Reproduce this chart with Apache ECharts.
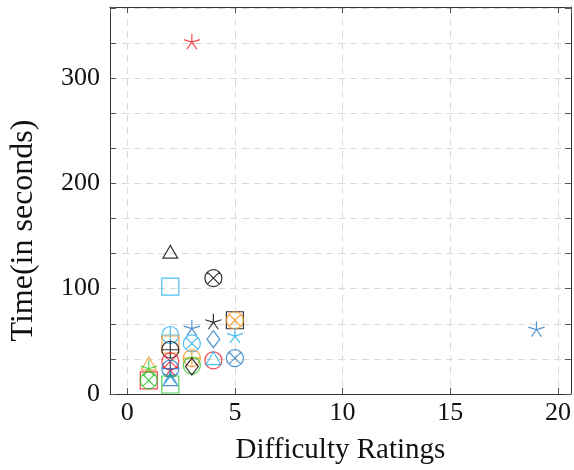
<!DOCTYPE html>
<html>
<head>
<meta charset="utf-8">
<script src="https://cdn.jsdelivr.net/npm/echarts@6/dist/echarts.min.js"></script>
<style>
  html, body { margin: 0; padding: 0; background: #fff; }
  #chart { width: 574px; height: 470px; }
</style>
</head>
<body>
<div id="chart"></div>
<script>
// Difficulty rating vs. solving time, one marker style per puzzle
const blackTriangle  = [[2, 133]];
const cyanSquare     = [[2, 102]];
const blackOtimes    = [[4, 110]];
const blackStar      = [[4, 68]];
const blackSquare    = [[5, 70]];
const orangeOtimes   = [[5, 70]];
const blueStar       = [[3, 62], [19, 61]];
const cyanStar       = [[5, 55], [2, 17]];
const redStar        = [[3, 334], [2, 23]];
const greenStar      = [[1, 24]];
const cyanOplus      = [[2, 56]];
const cyanOtimes     = [[3, 48]];
const blueDiamond    = [[4, 52]];
const orangeSquare   = [[2, 47]];
const blackOplus     = [[2, 42]];
const redOtimes      = [[2, 31]];
const orangeOplus    = [[3, 34]];
const redCircle      = [[4, 32]];
const cyanTriangle   = [[4, 32]];
const blueOtimes     = [[5, 34]];
const greenCircle    = [[3, 27]];
const blackDiamond   = [[3, 26]];
const orangeTriangle = [[1, 27]];
const redSquare      = [[1, 13]];
const greenOtimes    = [[1, 13]];
const blueOplus      = [[2, 24]];
const blueTriangle   = [[2, 12]];
const greenSquare    = [[2, 9]];

const yTickLabels = [0, 100, 200, 300];

// colours
const C = {
  black: '#000000',
  red: '#ef1c24',
  cyan: '#22aef0',
  blue: '#1f78c4',
  orange: '#f7941d',
  green: '#22c822'
};

// marker outlines, all drawn in a [-1,1] box so every mark stays centred
const BOX = 'M-1,-1L-1,-1M1,1L1,1';
const S = {
  circle:   'path://' + BOX + 'M1,0A1,1 0 1,1 -1,0A1,1 0 1,1 1,0Z',
  otimes:   'path://' + BOX + 'M1,0A1,1 0 1,1 -1,0A1,1 0 1,1 1,0ZM-0.707,-0.707L0.707,0.707M0.707,-0.707L-0.707,0.707',
  oplus:    'path://' + BOX + 'M1,0A1,1 0 1,1 -1,0A1,1 0 1,1 1,0ZM-1,0L1,0M0,-1L0,1',
  square:   'path://' + BOX + 'M-1,-1L1,-1L1,1L-1,1Z',
  triangle: 'path://' + BOX + 'M0,-1L0.866,0.5L-0.866,0.5Z',
  diamond:  'path://' + BOX + 'M0,-1L0.75,0L0,1L-0.75,0Z',
  star:     'path://' + BOX + 'M0,0L0,-1M0,0L0.951,-0.309M0,0L0.588,0.809M0,0L-0.588,0.809M0,0L-0.951,-0.309'
};

function marks(data, shape, color) {
  return {
    type: 'scatter',
    data: data,
    symbol: S[shape],
    symbolSize: 17,
    symbolKeepAspect: true,
    itemStyle: { color: 'none', borderColor: color, borderWidth: 1.2 },
    emphasis: { disabled: true },
    silent: true,
    z: 3
  };
}

const series = [
  marks(blackTriangle, 'triangle', C.black),
  marks(cyanSquare, 'square', C.cyan),
  marks(blackOtimes, 'otimes', C.black),
  marks(blackStar, 'star', C.black),
  marks(blackSquare, 'square', C.black),
  marks(orangeOtimes, 'otimes', C.orange),
  marks(blueStar, 'star', C.blue),
  marks(cyanStar, 'star', C.cyan),
  marks(redStar, 'star', C.red),
  marks(cyanOplus, 'oplus', C.cyan),
  marks(orangeSquare, 'square', C.orange),
  marks(cyanOtimes, 'otimes', C.cyan),
  marks(blueDiamond, 'diamond', C.blue),
  marks(blackOplus, 'oplus', C.black),
  marks(redOtimes, 'otimes', C.red),
  marks(orangeOplus, 'oplus', C.orange),
  marks(redCircle, 'circle', C.red),
  marks(cyanTriangle, 'triangle', C.cyan),
  marks(blueOtimes, 'otimes', C.blue),
  marks(greenCircle, 'circle', C.green),
  marks(blackDiamond, 'diamond', C.black),
  marks(orangeTriangle, 'triangle', C.orange),
  marks(greenStar, 'star', C.green),
  marks(redSquare, 'square', C.red),
  marks(greenOtimes, 'otimes', C.green),
  marks(blueOplus, 'oplus', C.blue),
  marks(blueTriangle, 'triangle', C.blue),
  marks(greenSquare, 'square', C.green)
];

const FONT = 'Liberation Serif';
const gridLine = { show: true, lineStyle: { color: '#d9d9d9', width: 1, type: [7, 5] } };
const frame = { show: true, onZero: false, lineStyle: { color: '#333', width: 1 } };
const ticks = { show: true, inside: true, length: 6, lineStyle: { color: '#555', width: 1 } };

const X_MIN = -0.8, X_MAX = 20.6, Y_MIN = 0, Y_MAX = 367.4;

const option = {
  animation: false,
  backgroundColor: '#ffffff',
  grid: { left: 110, top: 7, width: 463, height: 387, containLabel: false },
  xAxis: [
    {
      type: 'value', position: 'bottom', min: X_MIN, max: X_MAX, splitNumber: 4,
      axisLine: frame, axisTick: ticks, splitLine: gridLine,
      axisLabel: { show: true, showMinLabel: false, showMaxLabel: false, margin: 6,
        color: '#111', fontFamily: FONT, fontSize: 26 },
      name: 'Difficulty Ratings', nameLocation: 'middle', nameGap: 42,
      nameTextStyle: { color: '#111', fontFamily: FONT, fontSize: 29 }
    },
    {
      type: 'value', position: 'top', min: X_MIN, max: X_MAX, splitNumber: 4,
      axisLine: frame, axisTick: ticks, splitLine: { show: false }, axisLabel: { show: false }
    }
  ],
  yAxis: [
    {
      type: 'value', position: 'left', min: Y_MIN, max: Y_MAX, interval: 100 / 3,
      axisLine: frame, axisTick: ticks, splitLine: gridLine,
      axisLabel: {
        show: true, margin: 10, color: '#111', fontFamily: FONT, fontSize: 26,
        formatter: function (v) {
          const hit = yTickLabels.find(t => Math.abs(t - v) < 0.01);
          return hit === undefined ? '' : String(hit);
        }
      },
      name: 'Time(in seconds)', nameLocation: 'middle', nameGap: 70, nameRotate: 90,
      nameTextStyle: { color: '#111', fontFamily: FONT, fontSize: 32, padding: [0, 60, 0, 0] }
    },
    {
      type: 'value', position: 'right', min: Y_MIN, max: Y_MAX, interval: 100 / 3,
      axisLine: frame, axisTick: ticks, splitLine: { show: false }, axisLabel: { show: false }
    }
  ],
  series: series
};

const chart = echarts.init(document.getElementById('chart'), null, { renderer: 'canvas' });
chart.setOption(option);
</script>
</body>
</html>
